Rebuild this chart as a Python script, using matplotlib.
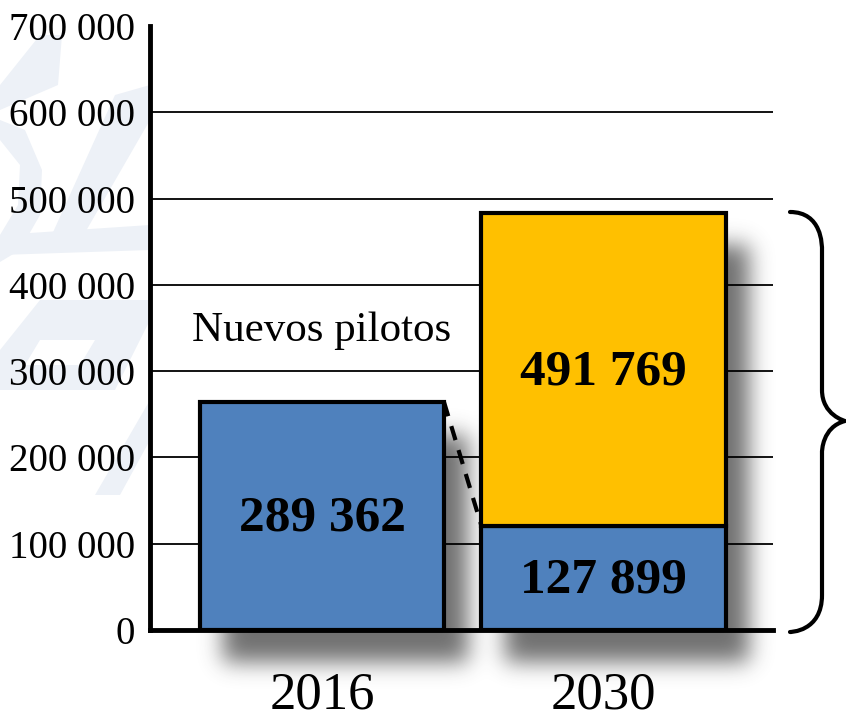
import numpy as np
import matplotlib
matplotlib.use("Agg")
import matplotlib.pyplot as plt
from matplotlib.path import Path
from matplotlib.patches import PathPatch, Polygon
from matplotlib.transforms import IdentityTransform

# ---- data ----
years = ["2016", "2030"]
existing_pilots = [264000, 120500]      # blue bar heights as drawn
new_pilots = [0, 362800]                # yellow bar heights as drawn
existing_labels = ["289 362", "127 899"]
new_label = "491 769"
annotation = "Nuevos pilotos"
yticks = [0, 100000, 200000, 300000, 400000, 500000, 600000, 700000]
ytick_labels = ["0", "100 000", "200 000", "300 000", "400 000", "500 000", "600 000", "700 000"]

BLUE = "#4F81BD"
YELLOW = "#FFC000"
W, H = 846, 718
plt.rcParams['font.family'] = ['Liberation Serif', 'DejaVu Serif']

fig = plt.figure(figsize=(W / 100, H / 100), dpi=100)
fig.patch.set_facecolor("white")

# ---- faint watermark (figure pixel coords, image y downward) ----
wm_color = "#edf1f7"
def img_poly(pts, color=wm_color, z=-5):
    pts = [(x, H - y) for x, y in pts]
    p = Polygon(pts, closed=True, transform=IdentityTransform(), facecolor=color,
                edgecolor="none", zorder=z)
    fig.patches.append(p)

img_poly([(40, 35), (62, 35), (58, 85), (0, 110), (0, 85)])
img_poly([(0, 120), (25, 130), (42, 170), (40, 215), (20, 250), (0, 262), (0, 235), (18, 205), (20, 165), (0, 140)])
img_poly([(115, 95), (150, 85), (150, 120), (75, 250), (45, 250)])
img_poly([(0, 235), (150, 225), (150, 250), (0, 255)])
img_poly([(40, 300), (150, 300), (150, 320), (115, 390), (0, 390), (0, 350)])
img_poly([(150, 400), (150, 440), (120, 495), (95, 495)])
img_poly([(40, 340), (95, 340), (80, 365), (25, 365)], color="white", z=-4)

ax = fig.add_axes([150 / W, 1 - 630 / H, (773 - 150) / W, (630 - 26) / H])
ax.set_facecolor("none")
ax.set_xlim(-0.611, 1.602)
ax.set_ylim(0, 700000)

x = np.arange(len(years))
width = 0.867

# ---- gridlines ----
for yv in yticks[1:-1]:
    ax.axhline(yv, color="black", lw=1.3, zorder=1)

# ---- blurred shadows (computed from bar geometry) ----
shadow = np.zeros((H, W))
tops = [existing_pilots[i] + new_pilots[i] for i in range(len(years))]
dx, dy = 24, 32
for i in range(len(years)):
    (x0, y0) = ax.transData.transform((x[i] - width / 2, 0))
    (x1, y1) = ax.transData.transform((x[i] + width / 2, tops[i]))
    xs0, xs1 = int(x0 + dx), int(x1 + dx)
    ys0, ys1 = int(max(y0 - dy, 0)), int(y1 - dy)
    shadow[ys0:ys1, xs0:xs1] = 1.0
sig = 11
k = np.arange(-3 * sig, 3 * sig + 1)
kern = np.exp(-k ** 2 / (2 * sig ** 2))
kern /= kern.sum()
shadow = np.apply_along_axis(lambda r: np.convolve(r, kern, mode="same"), 1, shadow)
shadow = np.apply_along_axis(lambda c: np.convolve(c, kern, mode="same"), 0, shadow)
rgba = np.zeros((H, W, 4))
rgba[..., 0:3] = 0.2
rgba[..., 3] = np.clip(shadow * 0.7, 0, 1)
fig.figimage(rgba, xo=0, yo=0, origin="lower", zorder=-1)

# ---- bars ----
ax.bar(x, existing_pilots, width, color=BLUE, edgecolor="black", linewidth=3, zorder=3)
ax.bar(x[1], new_pilots[1], width, bottom=existing_pilots[1], color=YELLOW,
       edgecolor="black", linewidth=3, zorder=3)

# labels
for i in range(len(years)):
    ax.text(x[i], existing_pilots[i] / 2 - 3000, existing_labels[i], ha="center", va="center",
            fontsize=37, fontweight="bold", zorder=5)
ax.text(x[1], existing_pilots[1] + new_pilots[1] * 0.49, new_label, ha="center", va="center",
        fontsize=37, fontweight="bold", zorder=5)

ax.text(x[0], 347000, annotation, ha="center", va="center", fontsize=31, zorder=5)

# dashed connector
ax.plot([x[0] + width / 2, x[1] - width / 2], [existing_pilots[0], existing_pilots[1]],
        color="black", lw=3, ls=(0, (3.5, 2.5)), zorder=4)

# ---- axes styling ----
for s in ["top", "right"]:
    ax.spines[s].set_visible(False)
ax.spines["left"].set_linewidth(3.5)
ax.spines["bottom"].set_linewidth(3.5)
ax.spines["left"].set_zorder(6)
ax.spines["bottom"].set_zorder(6)
ax.set_yticks(yticks)
ax.set_yticklabels(ytick_labels, fontsize=28)
ax.tick_params(axis="y", length=0, pad=11)
ax.set_xticks(x)
ax.set_xticklabels(years, fontsize=38)
ax.tick_params(axis="x", length=0, pad=30)

# ---- brace (figure pixel coords) ----
def P(xp, yp):
    return (xp, H - yp)
verts = [P(790, 212),
         P(822, 212), P(822, 245), P(822, 250),
         P(822, 390),
         P(822, 415), P(845, 421), P(845, 421),
         P(822, 427), P(822, 452), P(822, 452),
         P(822, 595),
         P(822, 632), P(790, 632), P(790, 632)]
codes = [Path.MOVETO,
         Path.CURVE4, Path.CURVE4, Path.CURVE4,
         Path.LINETO,
         Path.CURVE4, Path.CURVE4, Path.CURVE4,
         Path.CURVE4, Path.CURVE4, Path.CURVE4,
         Path.LINETO,
         Path.CURVE4, Path.CURVE4, Path.CURVE4]
brace = PathPatch(Path(verts, codes), transform=IdentityTransform(), facecolor="none",
                  edgecolor="black", lw=3, capstyle="round", joinstyle="round")
fig.patches.append(brace)

fig.savefig("out.png", dpi=100)
